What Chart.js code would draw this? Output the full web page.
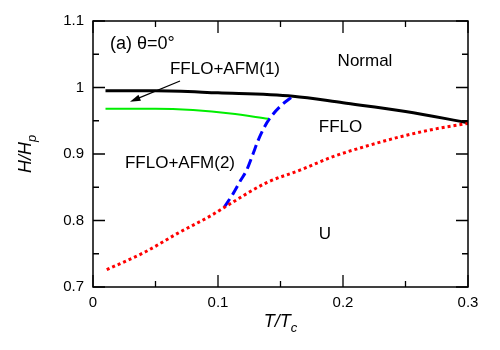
<!DOCTYPE html>
<html>
<head>
<meta charset="utf-8">
<script src="https://cdn.jsdelivr.net/npm/chart.js@4"></script>
<style>
  html, body { margin: 0; padding: 0; background: #fff; }
  #wrap { width: 500px; height: 350px; }
</style>
</head>
<body>
<div id="wrap"><canvas id="chart" width="500" height="350"></canvas></div>
<script>
// Phase boundaries, T/Tc vs H/Hp
const normalT = [0.01, 0.05, 0.10, 0.16, 0.20, 0.25, 0.30];
const normalH = [0.995, 0.995, 0.992, 0.987, 0.977, 0.964, 0.947];

const afmT = [0.01, 0.05, 0.08, 0.11, 0.14];
const afmH = [0.968, 0.968, 0.966, 0.961, 0.953];

const blueT = [0.105, 0.112, 0.118, 0.123, 0.128, 0.132, 0.137, 0.142, 0.150, 0.160];
const blueH = [0.820, 0.840, 0.860, 0.876, 0.900, 0.920, 0.940, 0.955, 0.972, 0.987];

const redT = [0.011, 0.042, 0.068, 0.095, 0.107, 0.139, 0.166, 0.192, 0.219, 0.246, 0.272, 0.30];
const redH = [0.726, 0.753, 0.781, 0.808, 0.822, 0.857, 0.876, 0.896, 0.912, 0.926, 0.937, 0.946];

// region labels in data coords
const labelText = ['(a) θ=0°', 'Normal', 'FFLO+AFM(1)', 'FFLO', 'FFLO+AFM(2)', 'U'];
const labelT = [0.0136, 0.2176, 0.1056, 0.198, 0.0696, 0.1856];
const labelH = [1.0654, 1.040, 1.0278, 0.9406, 0.8865, 0.7797];

// arrow from label to the thin AFM(1) region
const arrowT = [0.0696, 0.0296];
const arrowH = [1.0098, 0.9787];

const FONT = '"Liberation Sans", Arial, sans-serif';

function pts(xs, ys) {
  return xs.map((x, i) => ({ x: x, y: ys[i] }));
}

function line(data, color, width, dash) {
  return {
    data: data,
    showLine: true,
    borderColor: color,
    borderWidth: width,
    borderDash: dash || [],
    pointRadius: 0,
    tension: 0.4,
    cubicInterpolationMode: 'monotone',
    fill: false
  };
}

const framePlugin = {
  id: 'frame',
  afterDatasetsDraw(chart) {
    const ctx = chart.ctx;
    const a = chart.chartArea;
    const xs = chart.scales.x, ys = chart.scales.y;
    ctx.save();
    ctx.strokeStyle = '#000';
    ctx.lineWidth = 1.5;
    ctx.strokeRect(a.left, a.top, a.right - a.left, a.bottom - a.top);

    // inward ticks on all sides
    ctx.lineWidth = 1.3;
    ctx.beginPath();
    for (let i = 0; i <= 6; i++) {
      const v = i * 0.05;
      const px = xs.getPixelForValue(v);
      const len = i % 2 === 0 ? 12 : 6;
      ctx.moveTo(px, a.bottom); ctx.lineTo(px, a.bottom - len);
      ctx.moveTo(px, a.top); ctx.lineTo(px, a.top + len);
    }
    for (let i = 0; i <= 8; i++) {
      const v = 0.7 + i * 0.05;
      const py = ys.getPixelForValue(v);
      const len = i % 2 === 0 ? 12 : 6;
      ctx.moveTo(a.left, py); ctx.lineTo(a.left + len, py);
      ctx.moveTo(a.right, py); ctx.lineTo(a.right - len, py);
    }
    ctx.stroke();

    // arrow
    const x0 = xs.getPixelForValue(arrowT[0]), y0 = ys.getPixelForValue(arrowH[0]);
    const x1 = xs.getPixelForValue(arrowT[1]), y1 = ys.getPixelForValue(arrowH[1]);
    const ang = Math.atan2(y1 - y0, x1 - x0);
    ctx.beginPath();
    ctx.moveTo(x0, y0);
    ctx.lineTo(x1 - 6 * Math.cos(ang), y1 - 6 * Math.sin(ang));
    ctx.stroke();
    ctx.beginPath();
    ctx.moveTo(x1, y1);
    ctx.lineTo(x1 - 11 * Math.cos(ang - 0.3), y1 - 11 * Math.sin(ang - 0.3));
    ctx.lineTo(x1 - 11 * Math.cos(ang + 0.3), y1 - 11 * Math.sin(ang + 0.3));
    ctx.closePath();
    ctx.fillStyle = '#000';
    ctx.fill();

    // region labels
    ctx.fillStyle = '#000';
    ctx.textBaseline = 'middle';
    labelText.forEach((t, i) => {
      const px = xs.getPixelForValue(labelT[i]);
      const py = ys.getPixelForValue(labelH[i]);
      if (i === 0) {
        ctx.font = '18px ' + FONT;
        ctx.textAlign = 'left';
      } else {
        ctx.font = '17px ' + FONT;
        ctx.textAlign = 'center';
      }
      ctx.fillText(t, px, py);
    });

    // axis titles with subscripts
    const mid = (a.left + a.right) / 2;
    drawSub(ctx, 'T/T', 'c', mid, 322);
    ctx.translate(26, (a.top + a.bottom) / 2);
    ctx.rotate(-Math.PI / 2);
    drawSub(ctx, 'H/H', 'p', 0, 0);
    ctx.restore();
  }
};

function drawSub(ctx, main, sub, cx, cy) {
  ctx.font = 'italic 18px ' + FONT;
  const w1 = ctx.measureText(main).width;
  ctx.font = 'italic 13px ' + FONT;
  const w2 = ctx.measureText(sub).width;
  const x = cx - (w1 + w2) / 2;
  ctx.textAlign = 'left';
  ctx.textBaseline = 'middle';
  ctx.font = 'italic 18px ' + FONT;
  ctx.fillText(main, x, cy);
  ctx.font = 'italic 13px ' + FONT;
  ctx.fillText(sub, x + w1, cy + 6);
}

new Chart(document.getElementById('chart'), {
  type: 'scatter',
  data: {
    datasets: [
      line(pts(afmT, afmH), '#00ee00', 2),
      line(pts(redT, redH), '#ff0000', 3, [3, 3]),
      line(pts(blueT, blueH), '#0000ff', 3, [10, 5]),
      line(pts(normalT, normalH), '#000000', 3)
    ]
  },
  options: {
    responsive: false,
    animation: false,
    layout: { padding: { top: 21, right: 32, left: 0, bottom: 0 } },
    plugins: { legend: { display: false }, tooltip: { enabled: false } },
    scales: {
      x: {
        type: 'linear', min: 0, max: 0.3,
        grid: { display: false, drawTicks: false },
        border: { display: false },
        ticks: {
          stepSize: 0.1, padding: 7, color: '#000',
          font: { family: FONT, size: 15 },
          callback: v => String(Math.round(v * 10) / 10)
        },
        afterFit: s => { s.height = 63; }
      },
      y: {
        type: 'linear', min: 0.7, max: 1.1,
        grid: { display: false, drawTicks: false },
        border: { display: false },
        ticks: {
          stepSize: 0.1, padding: 9, color: '#000',
          font: { family: FONT, size: 15 },
          callback: v => String(Math.round(v * 10) / 10)
        },
        afterFit: s => { s.width = 93; }
      }
    }
  },
  plugins: [framePlugin]
});
</script>
</body>
</html>
